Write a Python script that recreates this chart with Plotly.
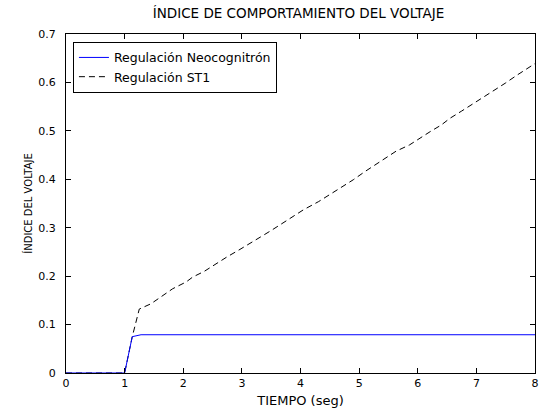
import plotly.graph_objects as go

# Regulación Neocognitrón
t_neo = [0, 1.0, 1.13, 1.28, 8.0]
v_neo = [0, 0, 0.075, 0.079, 0.079]

# Regulación ST1
t_st1 = [0, 1.0, 1.13, 1.25, 1.45, 1.64, 1.82, 2.05, 2.16, 2.36, 2.55, 2.75, 2.95,
         3.17, 3.32, 3.51, 3.68, 3.85, 4.05, 4.31, 4.53, 4.73, 4.90, 5.10, 5.27,
         5.46, 5.63, 5.86, 6.03, 6.22, 6.40, 6.55, 6.75, 6.93, 7.13, 7.31, 7.50,
         7.68, 7.89, 8.0]
v_st1 = [0, 0, 0.075, 0.132, 0.143, 0.159, 0.174, 0.188, 0.198, 0.210, 0.225, 0.240, 0.254,
         0.271, 0.281, 0.295, 0.308, 0.322, 0.337, 0.354, 0.371, 0.385, 0.399, 0.416, 0.429,
         0.444, 0.458, 0.471, 0.485, 0.499, 0.512, 0.526, 0.541, 0.555, 0.569, 0.584, 0.599,
         0.614, 0.630, 0.639]

x_ticks = [0, 1, 2, 3, 4, 5, 6, 7, 8]
y_ticks = [0, 0.1, 0.2, 0.3, 0.4, 0.5, 0.6, 0.7]
y_tick_labels = ["0", "0.1", "0.2", "0.3", "0.4", "0.5", "0.6", "0.7"]

font = "DejaVu Sans, Verdana, sans-serif"

fig = go.Figure()
fig.add_trace(go.Scatter(x=t_st1, y=v_st1, mode="lines", name="Regulación ST1",
                         line=dict(color="black", width=1, dash="6px,4px")))
fig.add_trace(go.Scatter(x=t_neo, y=v_neo, mode="lines", name="Regulación Neocognitrón",
                         line=dict(color="#0000ff", width=1)))

axis_common = dict(showgrid=False, zeroline=False, showline=True, linecolor="black",
                   linewidth=1, mirror="ticks", ticks="inside", ticklen=5,
                   tickcolor="black", tickfont=dict(size=11, color="black", family=font))

fig.update_layout(
    width=544, height=410,
    margin=dict(l=66, r=5, t=34, b=33),
    paper_bgcolor="white", plot_bgcolor="white",
    font=dict(family=font, size=11, color="black"),
    title=dict(text="ÍNDICE DE COMPORTAMIENTO DEL VOLTAJE", x=298.5 / 544, xanchor="center",
               y=1 - 13 / 410, yanchor="middle", font=dict(size=13.5, color="black", family=font)),
    xaxis=dict(range=[0, 8], tickvals=x_ticks, ticklabeloverflow="allow",
               title=dict(text="TIEMPO (seg)", standoff=6, font=dict(size=13)),
               **axis_common),
    yaxis=dict(range=[0, 0.7], tickvals=y_ticks, ticktext=y_tick_labels,
               ticklabelstandoff=7,
               title=dict(text="ÍNDICE DEL VOLTAJE", standoff=3, font=dict(size=10)),
               **axis_common),
    legend=dict(x=0.0148, y=0.977, xanchor="left", yanchor="top", traceorder="reversed",
                bordercolor="black", borderwidth=1, bgcolor="white",
                font=dict(size=12.5, color="black", family=font),
                tracegroupgap=0, itemwidth=30),
    showlegend=True,
)

fig.write_html("out.html", config={"displayModeBar": False},
               post_script="document.body.style.margin='0';")
